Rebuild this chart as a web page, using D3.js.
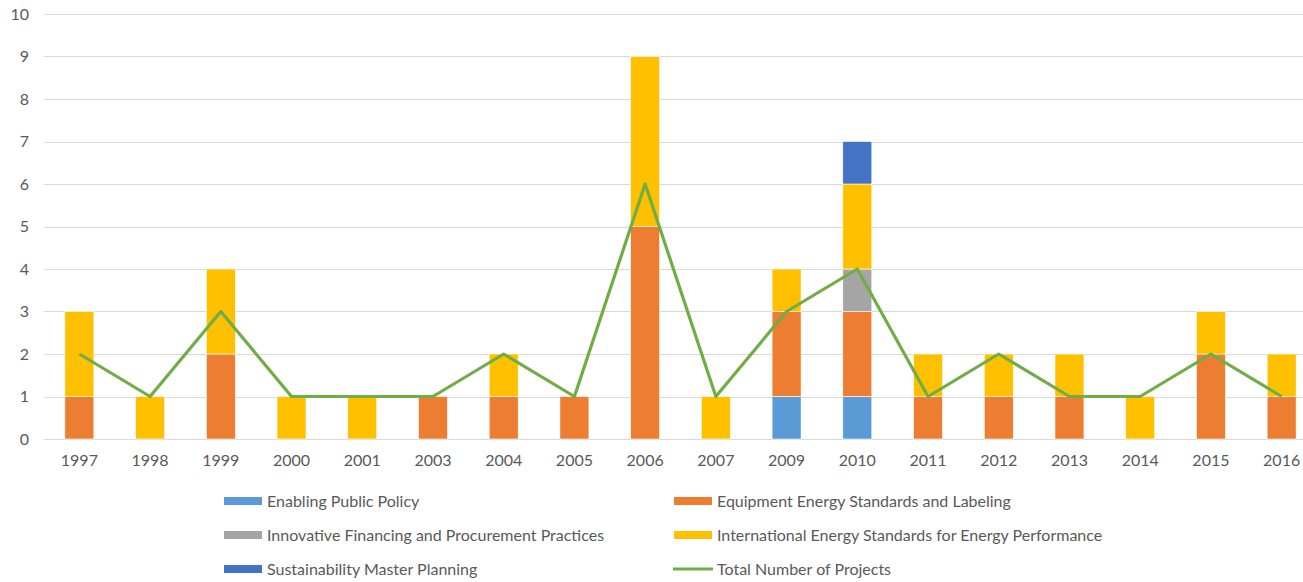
<!DOCTYPE html>
<html>
<head>
<meta charset="utf-8">
<script src="https://cdn.jsdelivr.net/npm/d3@7"></script>
<style>
  body { margin: 0; background: #fff; }
  text { font-family: Lato, "Open Sans", sans-serif; fill: #595959; }
</style>
</head>
<body>
<div id="chart"></div>
<script>
// data
var years = ["1997", "1998", "1999", "2000", "2001", "2003", "2004", "2005", "2006",
             "2007", "2009", "2010", "2011", "2012", "2013", "2014", "2015", "2016"];
var seriesNames = ["Enabling Public Policy", "Equipment Energy Standards and Labeling",
                   "Innovative Financing and Procurement Practices",
                   "International Energy Standards for Energy Performance",
                   "Sustainability Master Planning"];
var enabling      = [0, 0, 0, 0, 0, 0, 0, 0, 0, 0, 1, 1, 0, 0, 0, 0, 0, 0];
var equipment     = [1, 0, 2, 0, 0, 1, 1, 1, 5, 0, 2, 2, 1, 1, 1, 0, 2, 1];
var innovative    = [0, 0, 0, 0, 0, 0, 0, 0, 0, 0, 0, 1, 0, 0, 0, 0, 0, 0];
var international = [2, 1, 2, 1, 1, 0, 1, 0, 4, 1, 1, 2, 1, 1, 1, 1, 1, 1];
var sustainability= [0, 0, 0, 0, 0, 0, 0, 0, 0, 0, 0, 1, 0, 0, 0, 0, 0, 0];
var totalProjects = [2, 1, 3, 1, 1, 1, 2, 1, 6, 1, 3, 4, 1, 2, 1, 1, 2, 1];
var yTicks = [0, 1, 2, 3, 4, 5, 6, 7, 8, 9, 10];
var colors = ["#5B9BD5", "#ED7D31", "#A5A5A5", "#FFC000", "#4472C4"];
var lineColor = "#70AD47";

var W = 1303, H = 582;
var svg = d3.select("#chart").append("svg").attr("width", W).attr("height", H);

var x = d3.scaleBand().domain(years).range([44, 1317]).paddingInner(0.59).paddingOuter(0.295);
var y = d3.scaleLinear().domain([0, 10]).range([439, 14]);

// gridlines
svg.append("g").selectAll("line").data(yTicks).enter().append("line")
  .attr("x1", 44).attr("x2", W)
  .attr("y1", d => Math.round(y(d)) + 0.5).attr("y2", d => Math.round(y(d)) + 0.5)
  .attr("stroke", "#d9d9d9").attr("stroke-width", 1);

// y labels
var yAxis = d3.axisLeft(y).tickValues(yTicks).tickSize(0).tickPadding(0);
var gy = svg.append("g").attr("transform", "translate(29,0)").call(yAxis);
gy.select(".domain").remove();
gy.selectAll("text").style("font-size", "16px").attr("fill", "#595959");

// x labels
var xAxis = d3.axisBottom(x).tickSize(0).tickPadding(0);
var gx = svg.append("g").attr("transform", "translate(0,455)").call(xAxis);
gx.select(".domain").remove();
gx.selectAll("text").style("font-size", "16px").attr("fill", "#595959").attr("dy", "0.71em");

// stacked bars
var rows = years.map(function(yr, i) {
  return { year: yr, s0: enabling[i], s1: equipment[i], s2: innovative[i], s3: international[i], s4: sustainability[i] };
});
var stack = d3.stack().keys(["s0", "s1", "s2", "s3", "s4"]);
var layers = stack(rows);

svg.append("g").selectAll("g").data(layers).enter().append("g")
  .attr("fill", (d, i) => colors[i])
  .selectAll("rect").data(d => d.filter(p => p[1] > p[0])).enter().append("rect")
  .attr("x", d => x(d.data.year))
  .attr("width", x.bandwidth())
  .attr("y", d => y(d[1]))
  .attr("height", d => y(d[0]) - y(d[1]))
  .attr("stroke", "#fff").attr("stroke-width", 0.6);

// total line
var line = d3.line()
  .x((d, i) => x(years[i]) + x.bandwidth() / 2)
  .y(d => y(d));
svg.append("path").datum(totalProjects)
  .attr("d", line)
  .attr("fill", "none")
  .attr("stroke", lineColor)
  .attr("stroke-width", 3.2)
  .attr("stroke-linejoin", "round");

// legend
var legendItems = seriesNames.map((n, i) => ({ name: n, color: colors[i], type: "rect" }));
legendItems.push({ name: "Total Number of Projects", color: lineColor, type: "line" });
var legend = svg.append("g").selectAll("g").data(legendItems).enter().append("g")
  .attr("transform", (d, i) => "translate(" + (i % 2 === 0 ? 224 : 674) + "," + (501 + Math.floor(i / 2) * 34) + ")");
legend.filter(d => d.type === "rect").append("rect")
  .attr("x", 0).attr("y", -4).attr("width", 38).attr("height", 8)
  .attr("fill", d => d.color);
legend.filter(d => d.type === "line").append("line")
  .attr("x1", -1).attr("x2", 39).attr("y1", 0).attr("y2", 0)
  .attr("stroke", d => d.color).attr("stroke-width", 3);
legend.append("text")
  .attr("x", 43).attr("y", 0).attr("dy", "0.35em")
  .style("font-size", "16px")
  .text(d => d.name);
</script>
</body>
</html>
